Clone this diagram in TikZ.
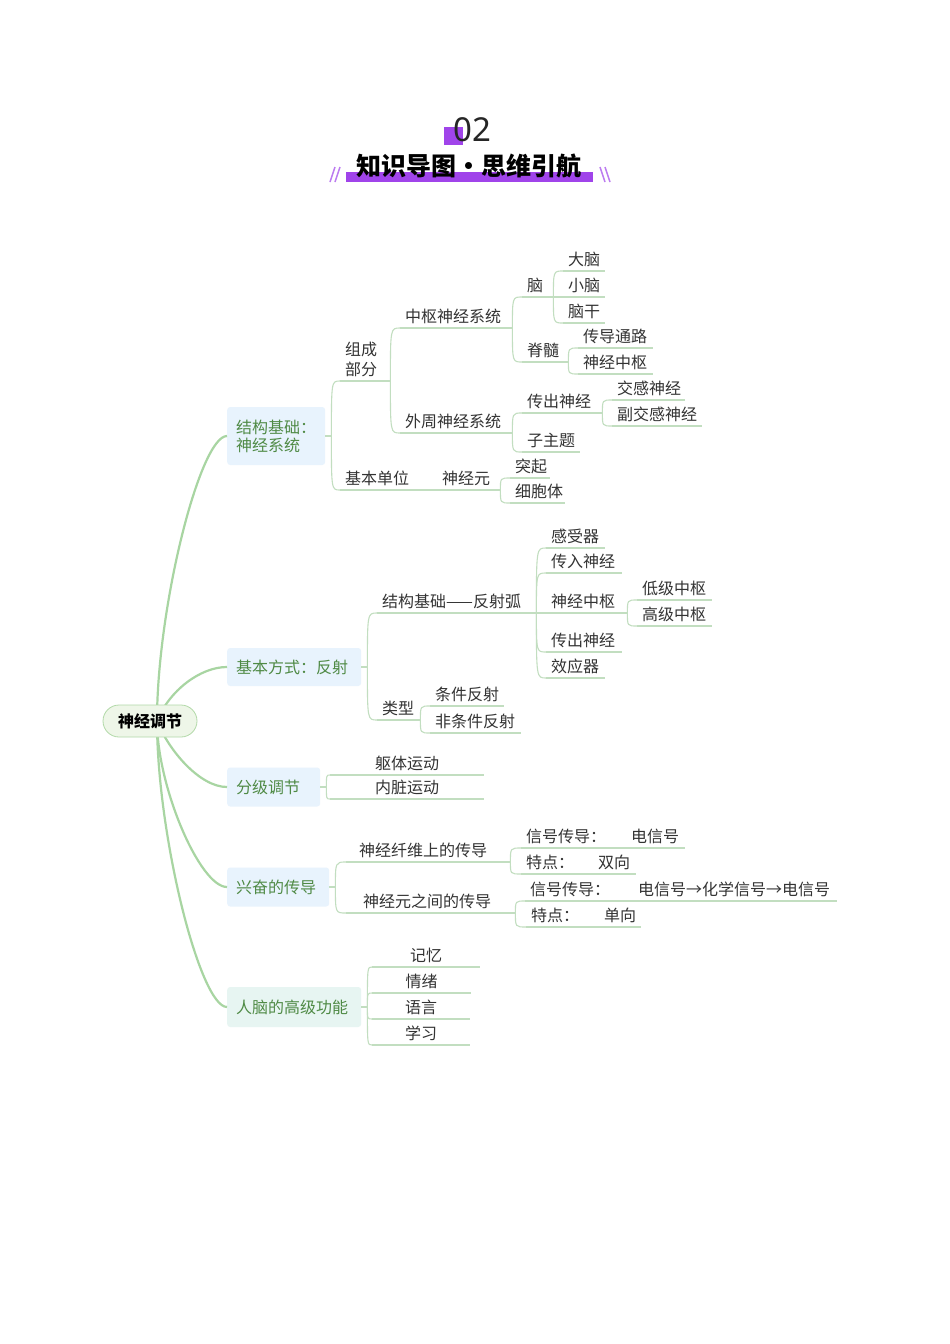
\documentclass[tikz,border=0pt]{standalone}
\usepackage{fontspec}
\newfontfamily\cjk{Noto Sans CJK SC}
\newfontfamily\numfont{Noto Sans}
\usepackage{xcolor}
\usetikzlibrary{positioning}
\definecolor{mainline}{HTML}{A8D5A2}
\definecolor{subline}{HTML}{C2DEC0}
\definecolor{boxblue}{HTML}{E8F3FD}
\definecolor{boxteal}{HTML}{E7F5F2}
\definecolor{boxgreen}{HTML}{4F8A45}
\definecolor{rootfill}{HTML}{EEF6E8}
\definecolor{rootline}{HTML}{B2D9A8}
\definecolor{txt}{HTML}{333333}
\definecolor{titlepurple}{HTML}{A044EA}
\def\itempad{5pt}

\begin{document}
\begin{tikzpicture}[x=1pt, y=-1pt,
        trunk/.style={draw=mainline, line width=2.2pt},
        subln/.style={draw=subline, line width=1.1pt},
        branch/.style={to path={.. controls (\tikztostart |- \tikztotarget) .. (\tikztotarget)}},
        lpad/.code={\def\itempad{#1}},
        item/.style={
            anchor=south west,
            inner xsep=0pt, inner ysep=0pt,
            text width=#1, align=left,
            text height=12pt, text depth=5pt,
            font=\cjk\fontsize{16}{20}\selectfont, text=txt,
            execute at begin node={\leftskip=\itempad},
            append after command={(\tikzlastnode.south west) edge[subln] (\tikzlastnode.south east)}
        },
        citem/.style={item=#1, lpad=0pt plus 1fil,
            execute at begin node={\rightskip=0pt plus 1fil\parfillskip=0pt}},
        lv1/.style={
            fill=boxblue, rounded corners=3pt, anchor=west,
            text width=#1, align=left,
            inner xsep=9pt, inner ysep=0pt,
            text height=14pt, text depth=2pt,
            font=\cjk\fontsize{16}{18}\selectfont, text=boxgreen
        },
        rootnode/.style={
            draw=rootline, fill=rootfill, line width=0.8pt,
            rounded corners=16pt, minimum width=94pt, minimum height=32pt,
            text height=14pt, text depth=2pt,
            font=\cjk\bfseries\fontsize{16}{18}\selectfont, text=black
        }
    ]
    \useasboundingbox[fill=white] (0,0) rectangle (950,1344);

    \fill[titlepurple] (444,127) rectangle (463,145);
    \node[font=\numfont\fontsize{33}{33}\selectfont, text=black!85] (num) at (472,130) {02};
    \fill[titlepurple] (346,172) rectangle (593,182);
    \node[font=\cjk\bfseries\fontsize{25}{25}\selectfont] (ttl) at (469,166) {知识导图•思维引航};
    \foreach \x in {330,335} \draw[titlepurple!70, line width=1.5pt] (\x,182) -- (\x+5,167);
    \foreach \x in {600,605} \draw[titlepurple!70, line width=1.5pt] (\x,167) -- (\x+5,182);

    \node[lv1=80pt, minimum height=58pt, text depth=20pt] (jgjc) at (227,436) {结构基础：\\神经系统};
    \node[lv1=116pt, minimum height=38pt] (jbfs) at (227,667) {基本方式：反射};
    \node[lv1=75pt, minimum height=39pt] (fjtj) at (227,787) {分级调节};
    \node[lv1=84pt, minimum height=39pt] (xfcd) at (227,887) {兴奋的传导};
    \node[lv1=116pt, minimum height=40pt, fill=boxteal] (rngn) at (227,1007) {人脑的高级功能};
    \foreach \b in {jgjc, jbfs, fjtj, xfcd, rngn} {
        \coordinate (\b-r) at ([xshift=6pt]\b.east);
        \draw[subln] (\b.east) -- (\b-r);
    }

    \coordinate (hub) at (157,721);
    \foreach \b/\u/\v in {jgjc/0/-114, jbfs/12/-30, fjtj/12/30, xfcd/0/66, rngn/0/114}
        \draw[trunk] (hub) .. controls +(\u,\v) and +(-27,0) .. (\b.west);
    \node[rootnode] (root) at (150,721) {神经调节};

    \node[item=50pt, text depth=25pt] (zcbf) at (340,381) {组成\\部分};
    \node[item=112pt] (zsxt) at (400,328) {中枢神经系统};
    \node[item=112pt] (wzxt) at (400,433) {外周神经系统};
    \node[item=31pt] (nao) at (522,297) {脑};
    \node[item=46pt] (jis) at (522,362) {脊髓};
    \node[item=42pt] (dn) at (563,271) {大脑};
    \node[item=42pt] (xn) at (563,297) {小脑};
    \node[item=42pt] (ng) at (563,323) {脑干};
    \node[item=75pt] (cdtl) at (578,348) {传导通路};
    \node[item=75pt] (sjzsA) at (578,374) {神经中枢};
    \node[item=80pt] (ccsjA) at (522,413) {传出神经};
    \node[item=58pt] (zzt) at (522,452) {子主题};
    \node[item=73pt] (jgsj) at (612,400) {交感神经};
    \node[item=90pt] (fjgsj) at (612,426) {副交感神经};
    \node[item=87pt] (jbdw) at (340,490) {基本单位};
    \node[item=63pt] (sjy) at (437,490) {神经元};
    \node[item=40pt] (tq) at (510,478) {突起};
    \node[item=55pt] (xbt) at (510,503) {细胞体};

    \node[item=159pt] (fsh) at (377,613) {结构基础——反射弧};
    \node[item=59pt] (gsq) at (546,548) {感受器};
    \node[item=76pt] (crsj) at (546,573) {传入神经};
    \node[item=81pt] (sjzsB) at (546,613) {神经中枢};
    \node[item=76pt] (ccsjB) at (546,652) {传出神经};
    \node[item=59pt] (xyq) at (546,678) {效应器};
    \node[item=75pt] (djzs) at (637,600) {低级中枢};
    \node[item=75pt] (gjzs) at (637,626) {高级中枢};
    \node[item=43pt] (lx) at (377,720) {类型};
    \node[item=74pt] (tjfs) at (430,706) {条件反射};
    \node[item=91pt] (ftjfs) at (430,733) {非条件反射};

    \node[citem=154pt] (qtyd) at (330,775) {躯体运动};
    \node[citem=154pt] (nzyd) at (330,799) {内脏运动};

    \node[item=164pt, lpad=13pt] (sjxw) at (346,862) {神经纤维上的传导};
    \node[item=169pt, lpad=17pt] (sjyj) at (346,913) {神经元之间的传导};
    \node[item=105pt] (xhA) at (521,848) {信号传导：};
    \node[item=59pt] (dxh) at (626,848) {电信号};
    \node[item=72pt] (tdA) at (521,874) {特点：};
    \node[item=43pt] (sx) at (593,874) {双向};
    \node[item=108pt] (xhB) at (525,901) {信号传导：};
    \node[item=204pt] (hx) at (633,901) {电信号→化学信号→电信号};
    \node[item=73pt] (tdB) at (526,927) {特点：};
    \node[item=42pt] (dx) at (599,927) {单向};

    \foreach \n/\t/\y/\w in {jy/记忆/967/108, qx/情绪/993/99, yy/语言/1019/98, xx/学习/1045/98}
        \node[citem=\w pt] (\n) at (372,\y) {\t};

    \foreach \a/\b in {jgjc-r/zcbf, jgjc-r/jbdw, jbfs-r/fsh, jbfs-r/lx, fjtj-r/qtyd, fjtj-r/nzyd,
                       xfcd-r/sjxw, xfcd-r/sjyj, rngn-r/jy, rngn-r/qx, rngn-r/yy, rngn-r/xx}
        \draw[subln] (\a) to[branch] (\b.south west);
    \foreach \a/\b in {zcbf/zsxt, zcbf/wzxt, zsxt/nao, zsxt/jis, nao/dn, nao/xn, nao/ng,
                       jis/cdtl, jis/sjzsA, wzxt/ccsjA, wzxt/zzt, ccsjA/jgsj, ccsjA/fjgsj,
                       jbdw/sjy, sjy/tq, sjy/xbt,
                       fsh/gsq, fsh/crsj, fsh/sjzsB, fsh/ccsjB, fsh/xyq, sjzsB/djzs, sjzsB/gjzs,
                       lx/tjfs, lx/ftjfs,
                       sjxw/xhA, sjxw/tdA, xhA/dxh, tdA/sx, sjyj/xhB, sjyj/tdB, xhB/hx, tdB/dx}
        \draw[subln] (\a.south east) to[branch] (\b.south west);
\end{tikzpicture}
\end{document}
